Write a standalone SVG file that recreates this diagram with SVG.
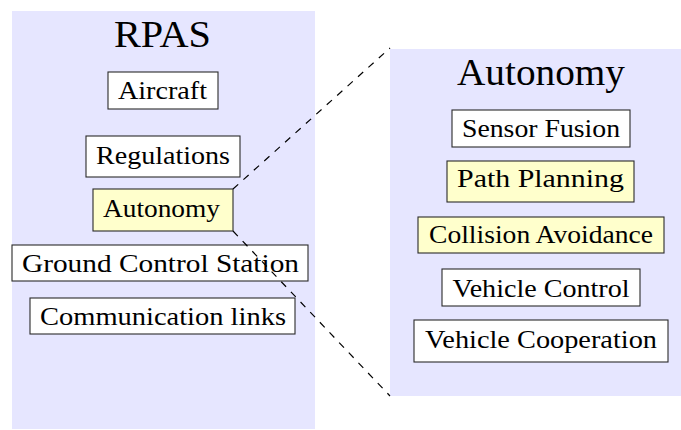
<svg xmlns="http://www.w3.org/2000/svg" width="681" height="430" viewBox="0 0 681 430">
  <style>
    .panel { fill: #e6e6ff; stroke: none; }
    .box { fill: #ffffff; stroke: #2a2a2a; stroke-width: 1.1; }
    .hl { fill: #ffffcc; }
    .lbl { font-family: "Liberation Serif", "DejaVu Serif", serif; font-size: 26px; fill: #000; text-anchor: middle; }
    .title { font-family: "Liberation Serif", "DejaVu Serif", serif; font-size: 37px; fill: #000; text-anchor: middle; }
    .zoom { fill: none; stroke: #000; stroke-width: 1.2; stroke-dasharray: 7 7; }
  </style>

  <!-- RPAS panel -->
  <g id="rpas">
    <rect class="panel" x="12" y="11" width="303" height="418"/>
    <text class="title" x="162.5" y="47" textLength="97" lengthAdjust="spacingAndGlyphs">RPAS</text>
  </g>
  <g id="aircraft">
    <rect class="box" x="108" y="72" width="110" height="37"/>
    <text class="lbl" x="162.5" y="99" textLength="89" lengthAdjust="spacingAndGlyphs">Aircraft</text>
  </g>
  <g id="regulations">
    <rect class="box" x="86" y="136" width="154" height="41"/>
    <text class="lbl" x="163" y="164" textLength="134" lengthAdjust="spacingAndGlyphs">Regulations</text>
  </g>
  <g id="autonomy-node">
    <rect class="box hl" x="93" y="189" width="140" height="42"/>
    <text class="lbl" x="161.5" y="217" textLength="117" lengthAdjust="spacingAndGlyphs">Autonomy</text>
  </g>
  <g id="ground-control">
    <rect class="box" x="12" y="245" width="296" height="36"/>
    <text class="lbl" x="160.5" y="272" textLength="277" lengthAdjust="spacingAndGlyphs">Ground Control Station</text>
  </g>
  <g id="comm-links">
    <rect class="box" x="30" y="298" width="265" height="36"/>
    <text class="lbl" x="163" y="325" textLength="246" lengthAdjust="spacingAndGlyphs">Communication links</text>
  </g>

  <!-- Autonomy detail panel -->
  <g id="autonomy">
    <rect class="panel" x="390" y="49" width="291" height="347"/>
    <text class="title" x="541" y="85" textLength="168" lengthAdjust="spacingAndGlyphs">Autonomy</text>
  </g>
  <g id="sensor-fusion">
    <rect class="box" x="452" y="110" width="178" height="37"/>
    <text class="lbl" x="541" y="137" textLength="158" lengthAdjust="spacingAndGlyphs">Sensor Fusion</text>
  </g>
  <g id="path-planning">
    <rect class="box hl" x="447" y="161" width="187" height="41"/>
    <text class="lbl" x="540.5" y="187" textLength="167" lengthAdjust="spacingAndGlyphs">Path Planning</text>
  </g>
  <g id="collision-avoidance">
    <rect class="box hl" x="418" y="217" width="246" height="36"/>
    <text class="lbl" x="541" y="243" textLength="224" lengthAdjust="spacingAndGlyphs">Collision Avoidance</text>
  </g>
  <g id="vehicle-control">
    <rect class="box" x="442" y="269" width="198" height="37"/>
    <text class="lbl" x="541" y="297" textLength="177" lengthAdjust="spacingAndGlyphs">Vehicle Control</text>
  </g>
  <g id="vehicle-cooperation">
    <rect class="box" x="414" y="320" width="254" height="42"/>
    <text class="lbl" x="541" y="348" textLength="232" lengthAdjust="spacingAndGlyphs">Vehicle Cooperation</text>
  </g>

  <!-- zoom connectors -->
  <g id="connectors">
    <line class="zoom" x1="233" y1="189" x2="390" y2="48"/>
    <line class="zoom" x1="233" y1="231" x2="390" y2="396"/>
  </g>
</svg>
